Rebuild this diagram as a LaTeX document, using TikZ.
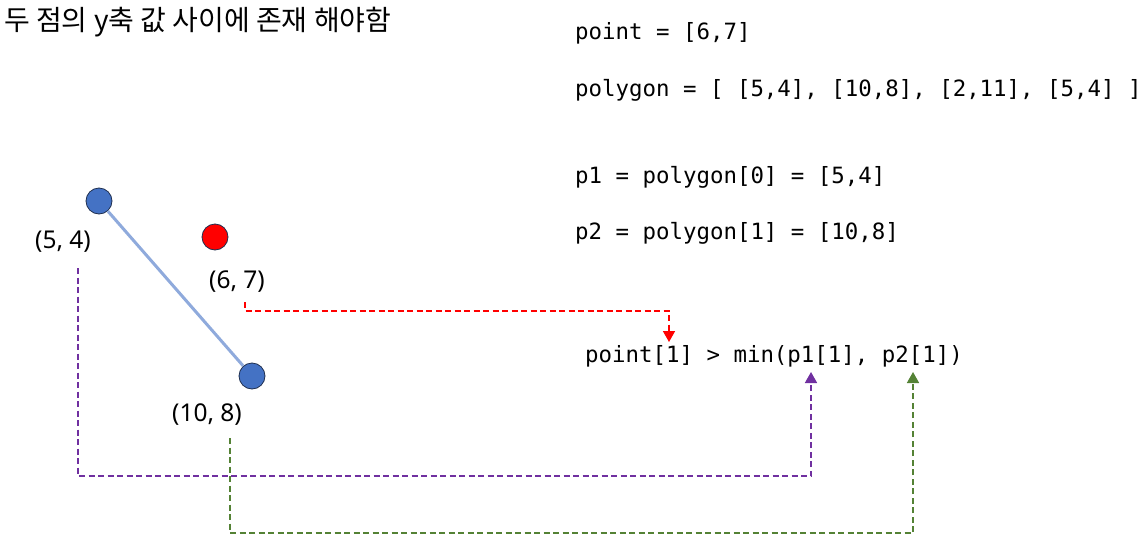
\documentclass[tikz,border=0pt]{standalone}
\usepackage{fontspec}
\setmainfont{Noto Sans}
\setmonofont{DejaVu Sans Mono}
\newfontfamily\krfont{Noto Sans CJK KR}
\usetikzlibrary{arrows.meta}
\definecolor{dotblue}{HTML}{4472C4}
\definecolor{dotedge}{HTML}{1F2F4F}
\definecolor{segblue}{HTML}{8FAADC}
\definecolor{arrred}{HTML}{FF0000}
\definecolor{arrpurple}{HTML}{7030A0}
\definecolor{arrgreen}{HTML}{548235}
\tikzset{
  pt/.style={circle, minimum size=26pt, inner sep=0pt, draw=dotedge, line width=0.8pt},
  bluept/.style={pt, fill=dotblue},
  redpt/.style={pt, fill=arrred},
  lbl/.style={font=\fontsize{24.5}{28}\selectfont, inner sep=0pt},
  code/.style={font=\ttfamily\fontsize{22.4}{26}\selectfont, inner sep=0pt, anchor=west},
  link/.style={line width=1.6pt, dash pattern=on 6pt off 3.5pt, -{Triangle[width=12pt,length=11pt]}},
}
\begin{document}
\begin{tikzpicture}[x=1pt,y=-1pt]
\useasboundingbox[fill=white] (0,0) rectangle (1144,541);
% title
\node[anchor=west, inner sep=0pt, font=\krfont\fontsize{28}{32}\selectfont] (title) at (4,22) {두 점의 y축 값 사이에 존재 해야함};
% code lines
\node[code] (c1) at (575,33) {point = [6,7]};
\node[code] (c2) at (575,90) {polygon = [ [5,4], [10,8], [2,11], [5,4] ]};
\node[code] (c3) at (575,177) {p1 = polygon[0] = [5,4]};
\node[code] (c4) at (575,233) {p2 = polygon[1] = [10,8]};
\node[code] (expr) at (585,356) {point[1] > min(p1[1], p2[1])};
% points
\node[bluept] (pA) at (99,201) {};
\node[bluept] (pB) at (252,376) {};
\node[redpt] (pP) at (215,237) {};
\draw[segblue, line width=3pt] (pA) -- (pB);
% labels
\node[lbl] (lA) at (63,242) {(5, 4)};
\node[lbl] (lP) at (237,282) {(6, 7)};
\node[lbl] (lB) at (207,415) {(10, 8)};
% connector ends
\coordinate (sR) at (245,302);
\coordinate (eR) at (669,342);
\coordinate (sPu) at (78,268);
\coordinate (ePu) at (811,372);
\coordinate (sG) at (230,438);
\coordinate (eG) at (913,372);
\draw[link, arrred] (sR) -- (245,311) -| (eR);
\draw[link, arrpurple] (sPu) -- (78,476) -| (ePu);
\draw[link, arrgreen] (sG) -- (230,533) -| (eG);
\end{tikzpicture}
\end{document}
